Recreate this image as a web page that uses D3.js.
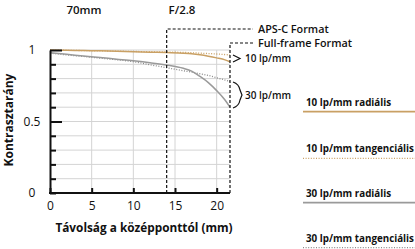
<!DOCTYPE html>
<html>
<head>
<meta charset="utf-8">
<script src="https://d3js.org/d3.v7.min.js"></script>
<style>
  * { margin:0; padding:0; }
  body { background:#fff; width:415px; height:249px; overflow:hidden; font-family:'Open Sans',sans-serif; }
  svg { display:block; }
  .tick text { font-family:'Open Sans',sans-serif; font-size:12px; fill:#111; }
  .lbl { font-family:'Open Sans',sans-serif; font-weight:700; fill:#111; }
</style>
</head>
<body>
<svg id="chart" width="415" height="249"></svg>
<script>
// ── Data ─────────────────────────────────────────────────────────────────────
var distance  = [0, 2, 4, 6, 8, 10, 12, 14, 16, 17, 18, 19, 20, 21, 21.6];
var radial10  = [1.0, 0.998, 0.996, 0.994, 0.991, 0.988, 0.985, 0.982, 0.978, 0.974, 0.967, 0.957, 0.945, 0.931, 0.918];
var tangent10 = [1.0, 0.998, 0.996, 0.994, 0.992, 0.990, 0.988, 0.986, 0.983, 0.981, 0.978, 0.975, 0.972, 0.968, 0.966];
var radial30  = [0.981, 0.970, 0.958, 0.947, 0.936, 0.925, 0.911, 0.895, 0.872, 0.852, 0.815, 0.772, 0.716, 0.650, 0.600];
var tangent30 = [0.978, 0.966, 0.955, 0.943, 0.932, 0.918, 0.897, 0.876, 0.855, 0.845, 0.834, 0.822, 0.806, 0.790, 0.780];

var xTicks    = [0, 5, 10, 15, 20];
var yTicks    = [0, 0.1, 0.2, 0.3, 0.4, 0.5, 0.6, 0.7, 0.8, 0.9, 1];
var yLabels   = { "0": "0", "0.5": "0.5", "1": "1" };
var apsC      = 14;     // mm
var fullFrame = 21.6;   // mm

var legendItems = [
  { label: "10 lp/mm radiális",      values: radial10,  color: "#c9a064", dash: null,  width: 1.5 },
  { label: "10 lp/mm tangenciális",  values: tangent10, color: "#c9a064", dash: "1,1.6", width: 1.3 },
  { label: "30 lp/mm radiális",      values: radial30,  color: "#9a9a9a", dash: null,  width: 1.5 },
  { label: "30 lp/mm tangenciális",  values: tangent30, color: "#8a8a8a", dash: "1,1.6", width: 1.3 }
];

// ── Scales ───────────────────────────────────────────────────────────────────
var svg = d3.select("#chart");
var x = d3.scaleLinear().domain([0, fullFrame]).range([50, 230]);
var y = d3.scaleLinear().domain([0, 1]).range([193, 50]);

// ── Grid ─────────────────────────────────────────────────────────────────────
var grid = svg.append("g").attr("stroke", "#d4d4d4").attr("stroke-width", 1);
grid.selectAll(".hg").data(yTicks.slice(1)).join("line")
  .attr("x1", x(0)).attr("x2", x(fullFrame))
  .attr("y1", function(d) { return y(d); }).attr("y2", function(d) { return y(d); });
grid.selectAll(".vg").data(xTicks.slice(1)).join("line")
  .attr("y1", y(0)).attr("y2", y(1))
  .attr("x1", function(d) { return x(d); }).attr("x2", function(d) { return x(d); });

// ── Curves ───────────────────────────────────────────────────────────────────
var line = d3.line()
  .x(function(d, i) { return x(distance[i]); })
  .y(function(d) { return y(d); })
  .curve(d3.curveMonotoneX);

svg.append("g").selectAll("path").data(legendItems.slice().reverse()).join("path")
  .attr("fill", "none")
  .attr("stroke", function(d) { return d.color; })
  .attr("stroke-width", function(d) { return d.width; })
  .attr("stroke-dasharray", function(d) { return d.dash; })
  .attr("d", function(d) { return line(d.values); });

// ── Axes ─────────────────────────────────────────────────────────────────────
var xAxis = svg.append("g").attr("transform", "translate(0," + y(0) + ")")
  .call(d3.axisBottom(x).tickValues(xTicks).tickSize(-5).tickSizeOuter(0).tickPadding(8)
    .tickFormat(d3.format("d")));
xAxis.select(".domain").attr("stroke", "#111").attr("stroke-width", 2)
  .attr("d", "M" + (x(0) - 1) + ",0H" + x(fullFrame));
xAxis.selectAll(".tick line").attr("stroke", "#111").attr("stroke-width", 2);

var yAxis = svg.append("g").attr("transform", "translate(" + x(0) + ",0)")
  .call(d3.axisLeft(y).tickValues(yTicks).tickSize(-6).tickSizeOuter(0).tickPadding(18)
    .tickFormat(function(d) { return yLabels[String(+d.toFixed(1))] || ""; }));
yAxis.select(".domain").attr("stroke", "#111").attr("stroke-width", 2);
yAxis.selectAll(".tick line").attr("stroke", "#111").attr("stroke-width", 2)
  .attr("x2", function(d) { return (Math.abs(d - 0.5) < 1e-6 || d === 1) ? 12 : 6; });
yAxis.selectAll(".tick text").attr("text-anchor", "middle");

// axis titles
svg.append("text").attr("class", "lbl")
  .attr("transform", "translate(13,120) rotate(-90)")
  .attr("text-anchor", "middle").style("font-size", "12px")
  .text("Kontrasztarány");
svg.append("text").attr("class", "lbl")
  .attr("x", 144).attr("y", 232)
  .attr("text-anchor", "middle").style("font-size", "11.8px")
  .text("Távolság a középponttól (mm)");

// ── Format markers (dashed) ──────────────────────────────────────────────────
var formats = [
  { name: "APS-C Format",      at: apsC,      top: 29 },
  { name: "Full-frame Format", at: fullFrame, top: 43 }
];
svg.append("g").selectAll("path").data(formats).join("path")
  .attr("fill", "none").attr("stroke", "#111").attr("stroke-width", 1.2)
  .attr("stroke-dasharray", "3,2")
  .attr("d", function(d) { return "M" + x(d.at) + "," + y(0) + "V" + d.top + "H253"; });
svg.append("g").selectAll("text").data(formats).join("text").attr("class", "lbl")
  .attr("x", 258).attr("y", function(d) { return d.top + 3.8; })
  .style("font-size", "10.8px").style("font-weight", 600)
  .text(function(d) { return d.name; });

// titles
svg.append("text").attr("class", "lbl").attr("x", 84).attr("y", 14).attr("text-anchor", "middle")
  .style("font-size", "11.5px").style("font-weight", 600).text("70mm");
svg.append("text").attr("class", "lbl").attr("x", 182).attr("y", 14).attr("text-anchor", "middle")
  .style("font-size", "11.5px").style("font-weight", 600).text("F/2.8");

// ── Group brackets next to curve ends ────────────────────────────────────────
var bx = x(fullFrame) + 3;
svg.append("path").attr("fill", "none").attr("stroke", "#111").attr("stroke-width", 1.2)
  .attr("d", "M" + bx + ",55L" + (bx + 7) + ",58.5L" + bx + ",62");
svg.append("path").attr("fill", "none").attr("stroke", "#111").attr("stroke-width", 1.2)
  .attr("d", "M" + bx + ",82Q" + (bx + 6) + ",84 " + (bx + 7) + ",90L" + (bx + 9) + ",95L" +
             (bx + 7) + ",100Q" + (bx + 6) + ",106 " + bx + ",108");
svg.append("text").attr("class", "lbl").attr("x", 245).attr("y", 62)
  .style("font-size", "10px").style("font-weight", 600).text("10 lp/mm");
svg.append("text").attr("class", "lbl").attr("x", 245).attr("y", 99)
  .style("font-size", "10px").style("font-weight", 600).text("30 lp/mm");

// ── Legend ───────────────────────────────────────────────────────────────────
var legendY = [111.7, 158.3, 202.7, 247.7];
var leg = svg.append("g").selectAll("g").data(legendItems).join("g")
  .attr("transform", function(d, i) { return "translate(0," + legendY[i] + ")"; });
leg.append("text").attr("class", "lbl").attr("x", 306).attr("y", -6)
  .style("font-size", "9.8px")
  .text(function(d) { return d.label; });
leg.append("line").attr("x1", 303).attr("x2", 415)
  .attr("stroke", function(d) { return d.color; })
  .attr("stroke-width", function(d) { return d.dash ? 1.2 : 1.8; })
  .attr("stroke-dasharray", function(d) { return d.dash; });
</script>
</body>
</html>
